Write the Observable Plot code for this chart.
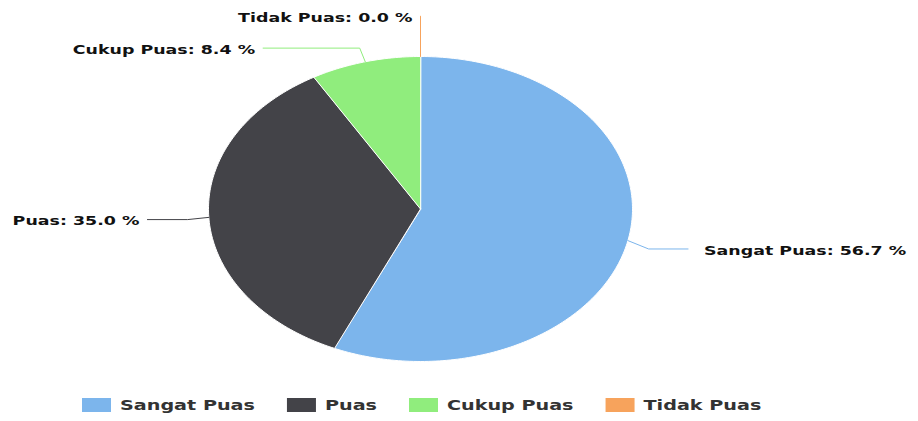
<!DOCTYPE html>
<html><head><meta charset="utf-8">
<script src="https://cdn.jsdelivr.net/npm/d3@7"></script>
<script src="https://cdn.jsdelivr.net/npm/@observablehq/plot@0.6"></script>
<style>
body{margin:0;background:#fff;font-family:"DejaVu Sans",sans-serif;}
svg{display:block;}
</style>
</head><body><div id="chart"></div>
<script>
// ---- data ----
const categories = ["Sangat Puas", "Puas", "Cukup Puas", "Tidak Puas"];
const values = [56.7, 35.0, 8.4, 0.0];
const colors = ["#7cb5ec", "#434348", "#90ed7d", "#f7a35c"];

// ---- layout parameters ----
const W = 918, H = 390;
const LABEL_R = 1.265;   // label radius (unit ellipse) for natural y
const LABEL_RX = 1.29;   // label radius for x
const BREAK_R = 1.1;     // connector break
const SEP = 0.21;        // min vertical separation between labels (unit)
const STRETCH = 1.34;    // horizontal text stretch

const rad = d => d * Math.PI / 180;
const total = d3.sum(values);
let acc = 0;
const slices = categories.map((c, i) => {
  const a0 = acc / total * 360; acc += values[i];
  const a1 = acc / total * 360;
  return {c, i, v: values[i], a0, a1, mid: (a0 + a1) / 2, color: colors[i]};
});

// slice polygons (unit ellipse, clockwise from top)
const polys = slices.filter(s => s.v > 0).map(s => {
  const pts = [{x: 0, y: 0}];
  const n = Math.max(2, Math.ceil(s.a1 - s.a0));
  for (let k = 0; k <= n; k++) {
    const a = rad(s.a0 + (s.a1 - s.a0) * k / n);
    pts.push({x: Math.sin(a), y: Math.cos(a)});
  }
  return {s, pts};
});

// labels
const labels = slices.map(s => {
  const m = rad(s.mid);
  const side = s.mid > 180 ? -1 : 1;
  return {s, m, side, y: Math.cos(m) * LABEL_R, moved: false,
          label: `${s.c}: ${s.v.toFixed(1)} %`};
});
for (const side of [-1, 1]) {
  const grp = labels.filter(l => l.side === side).sort((a, b) => b.y - a.y);
  for (let k = 1; k < grp.length; k++) {
    if (grp[k].y > grp[k - 1].y - SEP) { grp[k].y = grp[k - 1].y - SEP; grp[k].moved = true; }
  }
}
for (const l of labels) {
  l.x = l.moved ? l.side * Math.sqrt(Math.max(0, LABEL_RX ** 2 - l.y ** 2))
                : Math.sin(l.m) * LABEL_RX;
}
const connectors = labels.map(l => ({
  color: l.s.color,
  pts: [
    {x: l.x, y: l.y},
    {x: Math.sin(l.m) * BREAK_R, y: l.y},
    {x: Math.sin(l.m), y: Math.cos(l.m)}
  ]
}));

const chart = Plot.plot({
  width: W, height: H,
  marginLeft: 208, marginRight: W - 632, marginTop: 56, marginBottom: H - 361,
  x: {domain: [-1, 1], axis: null},
  y: {domain: [-1, 1], axis: null},
  style: {fontFamily: "DejaVu Sans", background: "white", overflow: "visible"},
  marks: [
    ...polys.map(p => Plot.line(p.pts, {x: "x", y: "y", curve: "linear-closed",
      fill: p.s.color, stroke: "white", strokeWidth: 1})),
    ...connectors.map(c => Plot.line(c.pts, {x: "x", y: "y", stroke: c.color, strokeWidth: 1})),
    Plot.text(labels.filter(l => l.side > 0), {x: "x", y: "y", text: "label",
      textAnchor: "start", dx: 16, dy: 1.5, fontWeight: "bold", fontSize: 13, fill: "#111"}),
    Plot.text(labels.filter(l => l.side < 0), {x: "x", y: "y", text: "label",
      textAnchor: "end", dx: -8, dy: 1.5, fontWeight: "bold", fontSize: 13, fill: "#111"})
  ]
});
const root = document.getElementById("chart");
root.appendChild(chart);
chart.querySelectorAll("text").forEach(t => {
  const L = t.getComputedTextLength();
  if (L > 0) { t.setAttribute("textLength", L * STRETCH); t.setAttribute("lengthAdjust", "spacingAndGlyphs"); }
});

// legend below
const leg = d3.create("svg").attr("width", W).attr("height", 31);
root.appendChild(leg.node());
let lx = 82;
categories.forEach((c, i) => {
  leg.append("rect").attr("x", lx).attr("y", 8).attr("width", 29).attr("height", 14).attr("fill", colors[i]);
  const t = leg.append("text").attr("x", lx + 38).attr("y", 15.5).attr("dy", "0.35em")
    .attr("font-family", "DejaVu Sans").attr("font-weight", "bold").attr("font-size", 13.5)
    .attr("fill", "#333").text(c);
  const L = t.node().getComputedTextLength() * 1.42;
  t.attr("textLength", L).attr("lengthAdjust", "spacingAndGlyphs");
  lx += 38 + L + 32;
});
</script>
</body></html>
